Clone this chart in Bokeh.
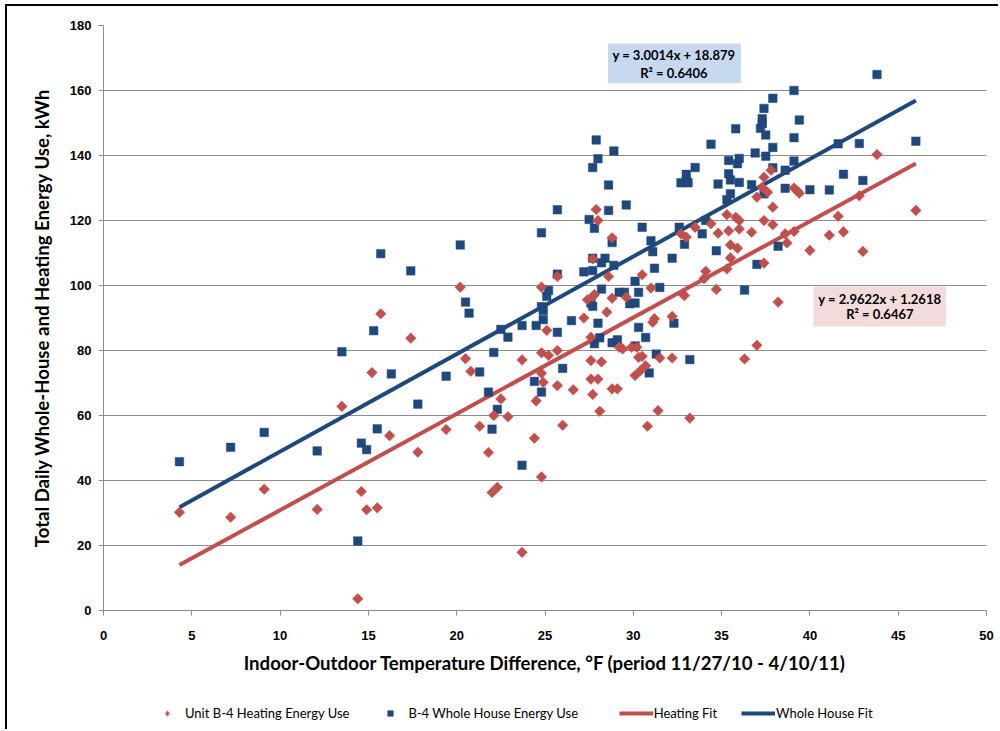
import numpy as np
from bokeh.plotting import figure
from bokeh.layouts import column
from bokeh.models import (Range1d, Legend, LegendItem, Label, BoxAnnotation, FixedTicker)
from bokeh.embed import file_html
from bokeh.resources import INLINE

# ---------------- data ----------------
heat_x = [4.3, 7.2, 9.1, 12.1, 13.5, 14.4, 14.6, 14.9, 15.2, 15.5, 15.7, 16.2, 17.4, 17.8, 19.4,
          20.2, 20.5, 20.8, 21.3, 21.8, 22.0, 22.1, 22.3, 22.5, 22.9, 23.7, 23.7, 24.4, 24.5, 24.8,
          24.8, 24.8, 24.8, 24.9, 25.1, 25.2, 25.7, 25.7, 25.7, 26.0, 26.6, 27.2, 27.4, 27.6, 27.6,
          27.6, 27.7, 27.7, 27.7, 27.8, 27.9, 28.0, 28.0, 28.1, 28.2, 28.5, 28.6, 28.8, 28.8, 28.8,
          29.1, 29.2, 29.4, 29.6, 29.9, 30.1, 30.2, 30.3, 30.4, 30.5, 30.5, 30.7, 30.8, 31.0, 31.1,
          31.2, 31.4, 31.5, 32.2, 32.2, 32.7, 32.8, 32.9, 33.0, 33.2, 33.5, 34.0, 34.1, 34.4, 34.7,
          34.8, 35.3, 35.3, 35.4, 35.5, 35.5, 35.8, 35.9, 36.0, 36.0, 36.3, 36.7, 37.0, 37.0, 37.3,
          37.4, 37.4, 37.4, 37.6, 37.8, 37.9, 37.9, 38.2, 38.6, 38.7, 39.1, 39.1, 39.3, 39.4, 40.0,
          41.1, 41.6, 41.9, 42.8, 43.0, 43.8, 46.0]
heat_y = [30.2, 28.7, 37.3, 31.1, 62.8, 3.6, 36.6, 31.0, 73.2, 31.6, 91.3, 53.8, 83.8, 48.7, 55.7,
          99.5, 77.5, 73.6, 56.7, 48.6, 36.3, 60.0, 37.9, 65.1, 59.6, 77.1, 17.9, 53.0, 64.5, 99.5,
          79.3, 73.0, 41.1, 70.2, 86.2, 78.5, 102.8, 80.0, 69.2, 57.0, 67.9, 90.0, 95.6, 84.1, 76.9,
          71.2, 96.6, 108.2, 66.5, 97.2, 123.4, 120.0, 71.2, 61.3, 76.5, 91.8, 102.8, 114.7, 96.1, 68.2,
          68.2, 81.0, 80.5, 96.4, 81.0, 72.3, 81.0, 77.9, 73.8, 103.3, 78.2, 75.3, 56.7, 99.2, 88.7,
          89.8, 61.5, 77.7, 90.5, 77.7, 115.9, 97.4, 96.9, 114.9, 59.2, 117.9, 102.1, 104.4, 119.0, 98.8,
          116.1, 121.8, 105.1, 116.8, 112.5, 108.5, 121.0, 111.5, 120.0, 117.4, 77.4, 116.4, 127.2, 81.6, 130.2,
          133.3, 120.0, 106.9, 128.7, 135.5, 124.1, 118.7, 94.9, 115.9, 113.1, 130.0, 116.6, 129.0, 128.4, 110.8,
          115.5, 121.3, 116.5, 127.6, 110.5, 140.3, 123.1]

house_x = [4.3, 7.2, 9.1, 12.1, 13.5, 14.4, 14.6, 14.9, 15.3, 15.5, 15.7, 16.3, 17.4, 17.8, 19.4,
           20.2, 20.5, 20.7, 21.3, 21.8, 22.0, 22.1, 22.3, 22.5, 22.9, 23.7, 23.7, 24.4, 24.5, 24.8,
           24.8, 24.9, 24.9, 24.8, 25.1, 25.2, 25.7, 25.7, 25.7, 26.0, 26.5, 27.2, 27.5, 27.6, 27.7,
           27.7, 27.7, 27.7, 27.8, 27.8, 27.9, 28.0, 28.0, 28.1, 28.2, 28.2, 28.4, 28.6, 28.6, 28.8,
           28.8, 28.9, 28.9, 29.1, 29.2, 29.5, 29.6, 29.8, 30.1, 30.1, 30.1, 30.3, 30.3, 30.5, 30.7,
           30.9, 31.0, 31.1, 31.2, 31.3, 31.5, 32.2, 32.3, 32.6, 32.7, 32.9, 33.0, 33.0, 33.1, 33.2,
           33.5, 33.9, 34.1, 34.4, 34.7, 34.8, 35.3, 35.4, 35.4, 35.5, 35.5, 35.8, 35.9, 36.0, 36.0,
           36.3, 36.7, 36.9, 37.0, 37.2, 37.3, 37.3, 37.4, 37.4, 37.5, 37.5, 37.9, 37.9, 37.9, 38.2,
           38.6, 38.6, 39.1, 39.1, 39.1, 39.4, 40.0, 41.1, 41.6, 41.9, 42.8, 43.0, 43.8, 46.0]
house_y = [45.8, 50.2, 54.8, 49.1, 79.6, 21.4, 51.5, 49.5, 86.1, 55.9, 109.8, 72.8, 104.5, 63.5, 72.1,
           112.5, 94.9, 91.5, 73.4, 67.2, 55.8, 79.4, 61.9, 86.5, 84.1, 44.7, 87.7, 70.5, 87.7, 116.2,
           93.5, 92.3, 89.5, 67.2, 96.7, 98.5, 123.3, 103.5, 85.6, 74.5, 89.2, 104.2, 120.3, 94.6, 93.6,
           136.3, 108.4, 104.6, 117.6, 82.1, 144.8, 139.0, 88.4, 83.9, 107.0, 98.9, 108.4, 123.1, 130.9, 113.2,
           82.4, 141.4, 106.2, 83.3, 97.9, 97.9, 124.8, 94.4, 94.6, 101.3, 81.4, 97.9, 87.1, 117.9, 84.0,
           73.1, 113.8, 110.4, 105.3, 78.9, 99.4, 108.4, 88.4, 117.9, 131.6, 112.7, 134.2, 132.1, 131.6, 77.2,
           136.3, 115.9, 120.0, 143.5, 110.7, 131.2, 126.4, 138.5, 134.4, 132.5, 128.2, 148.2, 137.5, 139.1, 131.7,
           98.6, 131.0, 140.8, 106.5, 148.4, 149.8, 151.3, 154.5, 128.2, 146.3, 139.8, 157.6, 142.5, 136.2, 112.1,
           135.5, 129.9, 160.0, 145.5, 138.3, 150.9, 129.5, 129.4, 143.6, 134.2, 143.7, 132.3, 164.9, 144.4]

heat_slope, heat_icpt, heat_r2 = 2.9622, 1.2618, 0.6467
house_slope, house_icpt, house_r2 = 3.0014, 18.879, 0.6406

series_names = ["Unit B-4 Heating Energy Use", "B-4 Whole House Energy Use",
                "Heating Fit", "Whole House Fit"]
x_ticks = [0, 5, 10, 15, 20, 25, 30, 35, 40, 45, 50]
y_ticks = [0, 20, 40, 60, 80, 100, 120, 140, 160, 180]

RED = "#c0504d"
BLUE = "#1f497d"
GRID = "#8c8c8c"

# ---------------- main figure ----------------
p = figure(width=993, height=684, output_backend="svg", toolbar_location=None,
           x_range=Range1d(0, 50), y_range=Range1d(0, 180),
           min_border_left=96, min_border_right=14, min_border_top=19, min_border_bottom=80)
p.styles = {"margin-left": "5px", "margin-top": "4px",
            "border-left": "2px solid black", "border-top": "2px solid black"}
p.outline_line_color = None
p.background_fill_color = "white"
p.border_fill_color = "white"

p.xgrid.grid_line_color = None
p.ygrid.grid_line_color = GRID
p.ygrid.grid_line_width = 1

for ax in (p.xaxis, p.yaxis):
    ax.axis_line_color = GRID
    ax.major_tick_line_color = GRID
    ax.minor_tick_line_color = None
    ax.major_tick_out = 5
    ax.major_tick_in = 0
    ax.major_label_text_font = "Liberation Sans"
    ax.major_label_text_font_style = "bold"
    ax.major_label_text_font_size = "13px"
    ax.major_label_text_color = "black"
    ax.axis_label_text_font = "Lato"
    ax.axis_label_text_font_style = "bold"
    ax.axis_label_text_font_size = "18.6px"
    ax.axis_label_text_color = "black"

p.xaxis.ticker = FixedTicker(ticks=x_ticks)
p.yaxis.ticker = FixedTicker(ticks=y_ticks)
p.xaxis.major_label_standoff = 15
p.yaxis.major_label_standoff = 7
p.xaxis.axis_label = "Indoor-Outdoor Temperature Difference, \u00b0F (period 11/27/10 - 4/10/11)"
p.yaxis.axis_label = "Total Daily Whole-House and Heating Energy Use, kWh"
p.xaxis.axis_label_standoff = 9
p.yaxis.axis_label_standoff = 14

# fits
hx = np.array([min(heat_x), max(heat_x)])
bx = np.array([min(house_x), max(house_x)])
p.line(hx, heat_slope * hx + heat_icpt, line_color=RED, line_width=4)
p.line(bx, house_slope * bx + house_icpt, line_color=BLUE, line_width=4)

# scatter
p.scatter(house_x, house_y, marker="square", size=8.5,
          fill_color=BLUE, line_color=BLUE, line_width=0.5)
p.scatter(heat_x, heat_y, marker="square", angle=np.pi / 4, size=7.5,
          fill_color=RED, line_color=RED, line_width=0.5)

# equation boxes
p.add_layout(BoxAnnotation(left=28.56, right=36.09, bottom=162.2, top=174.5,
                           fill_color="#c6d9f1", fill_alpha=1, line_color=None, level="overlay"))
p.add_layout(BoxAnnotation(left=40.2, right=47.7, bottom=87.4, top=99.7,
                           fill_color="#f2dcdb", fill_alpha=1, line_color=None, level="overlay"))

def eq_label(x, y, txt):
    p.add_layout(Label(x=x, y=y, text=txt, text_align="center", text_baseline="middle",
                       text_font="Lato", text_font_style="bold", text_font_size="13px",
                       text_color="black", level="overlay"))

eq_label(32.3, 170.8, f"y = {house_slope:.4f}x + {house_icpt:.3f}")
eq_label(32.3, 165.5, f"R\u00b2 = {house_r2:.4f}")
eq_label(43.96, 96.0, f"y = {heat_slope:.4f}x + {heat_icpt:.4f}")
eq_label(43.96, 91.1, f"R\u00b2 = {heat_r2:.4f}")

# ---------------- legend strip ----------------
lg = figure(width=993, height=41, output_backend="svg", toolbar_location=None,
            x_range=Range1d(0, 1), y_range=Range1d(0, 1),
            min_border_left=0, min_border_right=0, min_border_top=0, min_border_bottom=0)
lg.styles = {"margin-left": "5px", "border-left": "2px solid black"}
lg.axis.visible = False
lg.grid.visible = False
lg.outline_line_color = None
lg.background_fill_color = "white"
lg.border_fill_color = "white"

# off-screen stand-ins that only carry the legend styling
l_heat = lg.scatter([-5], [-5], marker="diamond", size=11,
                    fill_color=RED, line_color=RED, line_width=0.5)
l_house = lg.scatter([-5], [-5], marker="square", size=7,
                     fill_color=BLUE, line_color=BLUE, line_width=0.5)
l_hfit = lg.line([-5, -4], [-5, -4], line_color=RED, line_width=4)
l_bfit = lg.line([-5, -4], [-5, -4], line_color=BLUE, line_width=4)

legend = Legend(items=[LegendItem(label=series_names[0], renderers=[l_heat]),
                       LegendItem(label=series_names[1] + "\u00a0" * 5, renderers=[l_house]),
                       LegendItem(label=series_names[2], renderers=[l_hfit]),
                       LegendItem(label=series_names[3], renderers=[l_bfit])],
                orientation="horizontal", location=(47, 8),
                glyph_width=34, glyph_height=14, label_standoff=1, spacing=24,
                padding=0, margin=0, border_line_color=None, background_fill_alpha=0,
                label_text_font="Lato", label_text_font_size="13px", label_text_color="black")
lg.add_layout(legend, "center")

layout = column(p, lg, spacing=0)
open("out.html", "w").write(file_html(layout, INLINE))
